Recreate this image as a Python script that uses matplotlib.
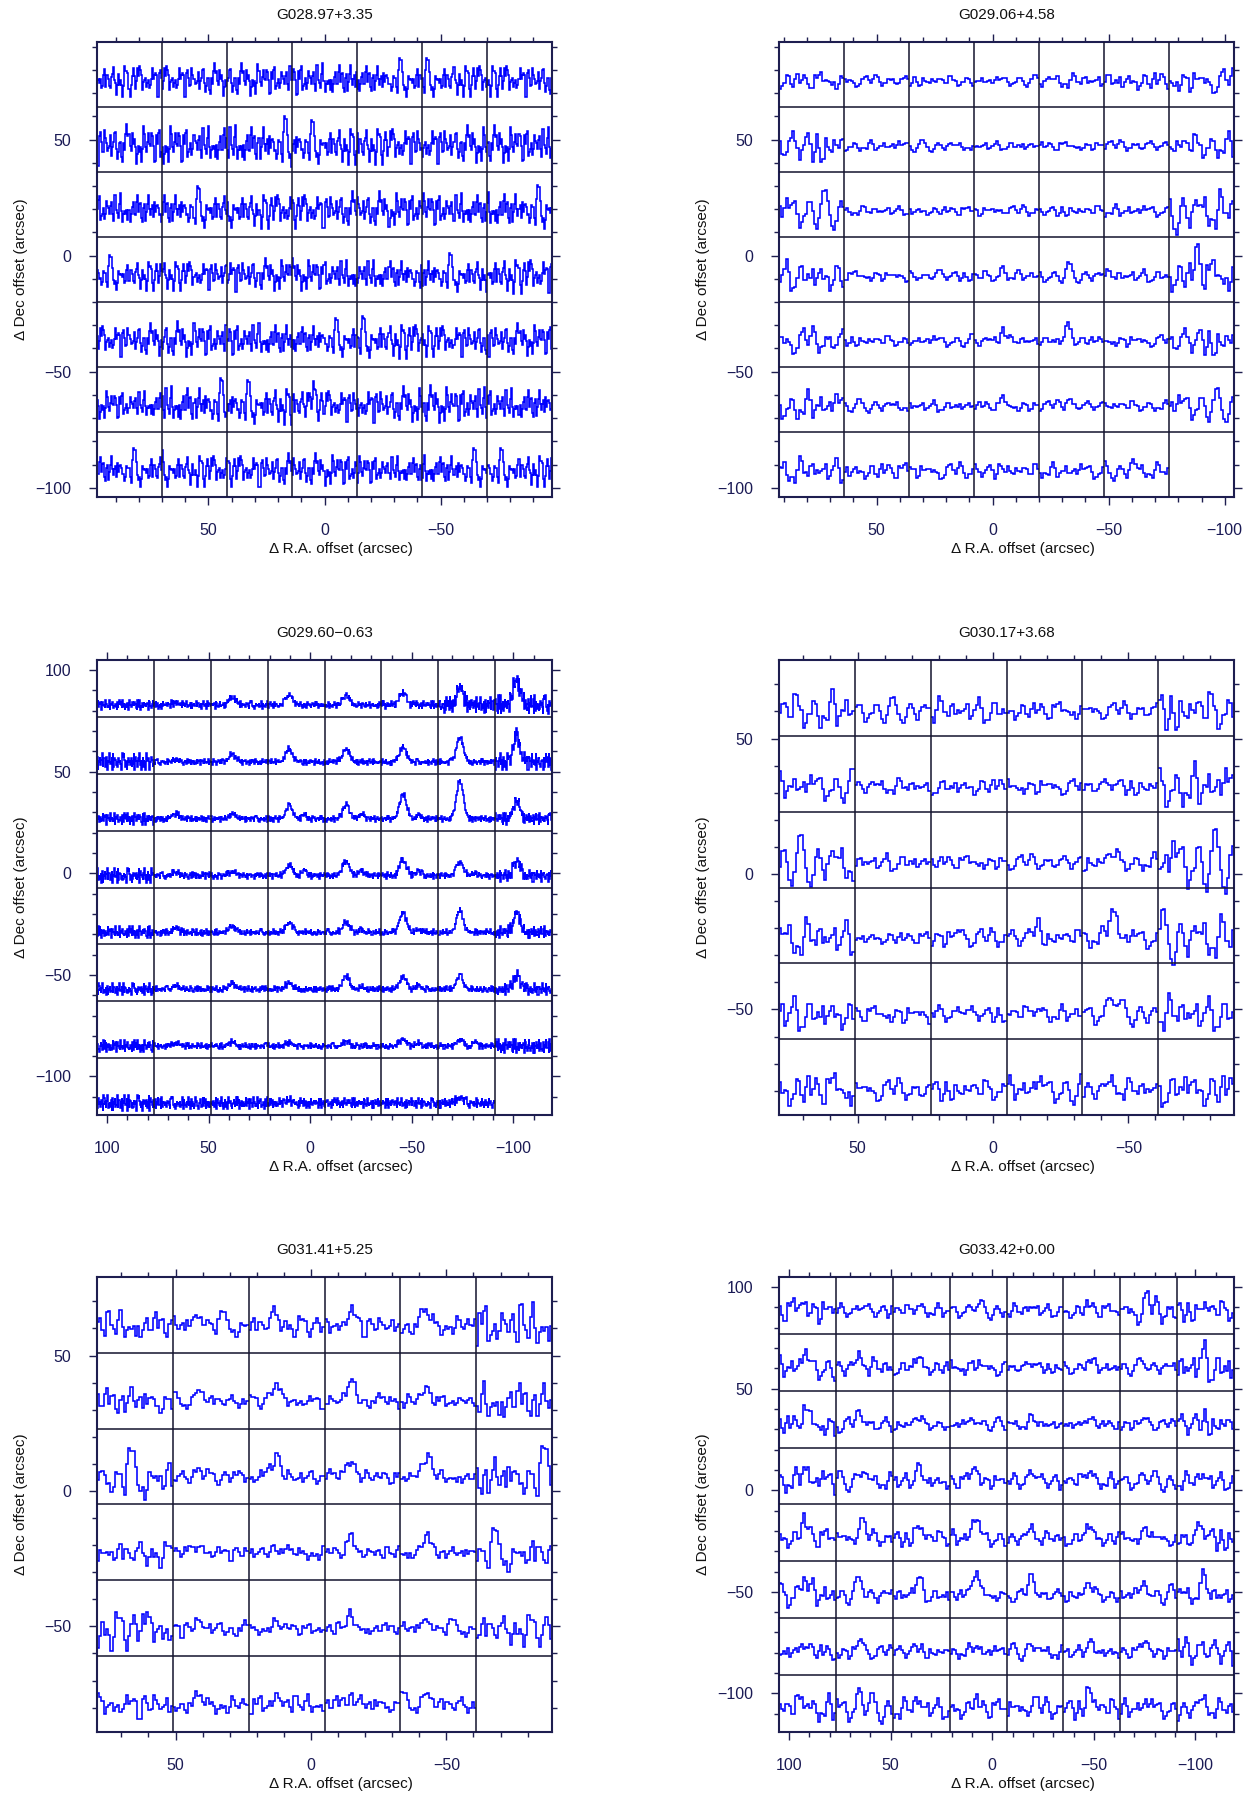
import matplotlib
matplotlib.use('Agg')
import matplotlib.pyplot as plt
from matplotlib.ticker import MultipleLocator
import numpy as np

plt.rcParams['font.family'] = ['Liberation Sans', 'DejaVu Sans']

STEP = 28.0  # map spacing in arcsec

# channel noise, one digit per channel, digit -> level
LEVELS = np.array([-1.9, -1.2, -0.8, -0.45, -0.15, 0.15, 0.45, 0.8, 1.2, 1.9])
BANK_A = ("4627135908" "5531749260" "3816402957" "7204586139" "2958063714"
          "6143927580" "0875319462" "5290647831" "3562081794" "8419275036"
          "1703964258" "4386510927" "9052713846" "2674098351" "6931452708"
          "0548236917" "7215806493" "3480917562" "5127463089" "8963150274")
BANK_B = ("3719064825" "6042873159" "1586320947" "9264517038" "4801936572"
          "7350218694" "2697405183" "8132759460" "5478602931" "0925184376"
          "6319847025" "2864053179" "7046291538" "1593768402" "4287510369"
          "9731026854" "0658473921" "3405982617" "8172639045" "5960314782")

titles = ['G028.97+3.35', 'G029.06+4.58', 'G029.60\u22120.63',
          'G030.17+3.68', 'G031.41+5.25', 'G033.42+0.00']
xlims = [(98, -98), (92, -104), (105, -119), (79, -89), (79, -89), (105, -119)]
ylims = [(-104, 92), (-104, 92), (-119, 105), (-89, 79), (-89, 79), (-119, 105)]
n_spectra = [49, 48, 63, 36, 35, 64]
n_chan = [64, 30, 90, 32, 34, 28]
baseline = [0.42, 0.40, 0.21, 0.33, 0.36, 0.40]
line_pos = [0.30, 0.45, 0.38, 0.40, 0.35, 0.45]
line_sigma = [0.05, 0.035, 0.06, 0.05, 0.06, 0.06]
noise_gain = [0.95, 1.0, 1.2, 1.2, 1.1, 1.3]
smoothed = [True, True, False, True, True, True]
banks = ['A', 'B', 'A', 'B', 'A', 'B']
shifts = [0, 11, 53, 97, 131, 23]

# rms noise and line peak per position, in units of the cell height
rms_g028 = [[0.13, 0.13, 0.13, 0.14, 0.13, 0.13, 0.13],
            [0.16, 0.16, 0.17, 0.15, 0.15, 0.15, 0.15],
            [0.14, 0.14, 0.14, 0.14, 0.14, 0.14, 0.15],
            [0.12, 0.12, 0.13, 0.13, 0.13, 0.13, 0.14],
            [0.13, 0.14, 0.14, 0.13, 0.14, 0.13, 0.13],
            [0.12, 0.16, 0.15, 0.13, 0.14, 0.15, 0.14],
            [0.13, 0.13, 0.13, 0.13, 0.12, 0.13, 0.13]]
line_g028 = [[0, 0, 0, 0, 0, 0, 0],
             [0, 0, 0, 0, 0, 0, 0],
             [0, 0, 0, 0, 0, 0, 0],
             [0, 0, 0, 0, 0, 0, 0],
             [0, 0, 0, 0, 0, 0, 0],
             [0, 0, 0, 0.2, 0, 0, 0],
             [0, 0, 0, 0, 0, 0, 0]]

rms_g029a = [[0.08, 0.045, 0.045, 0.04, 0.06, 0.09, 0.10],
             [0.14, 0.045, 0.04, 0.04, 0.04, 0.045, 0.11],
             [0.13, 0.04, 0.04, 0.045, 0.045, 0.05, 0.16],
             [0.14, 0.045, 0.04, 0.045, 0.05, 0.055, 0.15],
             [0.11, 0.045, 0.045, 0.045, 0.045, 0.05, 0.12],
             [0.12, 0.045, 0.05, 0.045, 0.045, 0.045, 0.11],
             [0.11, 0.075, 0.065, 0.065, 0.065, 0.065, 0.0]]
line_g029a = [[0, 0, 0, 0, 0, 0, 0],
              [0, 0, 0, 0, 0, 0, 0],
              [0, 0, 0, 0.06, 0, 0, 0],
              [0, 0, 0.05, 0.12, 0.1, 0, 0.4],
              [0, 0, 0, 0.25, 0.3, 0, 0],
              [0, 0, 0, 0.1, 0.12, 0, 0],
              [0, 0, 0, 0.14, 0, 0.12, 0]]

rms_g029b = [[0.04, 0.03, 0.03, 0.025, 0.025, 0.03, 0.07, 0.08],
             [0.07, 0.025, 0.025, 0.025, 0.025, 0.025, 0.025, 0.07],
             [0.05, 0.025, 0.025, 0.025, 0.025, 0.025, 0.025, 0.05],
             [0.06, 0.03, 0.025, 0.025, 0.025, 0.03, 0.025, 0.05],
             [0.05, 0.03, 0.025, 0.025, 0.025, 0.025, 0.025, 0.05],
             [0.05, 0.025, 0.025, 0.025, 0.025, 0.025, 0.025, 0.05],
             [0.05, 0.025, 0.025, 0.025, 0.025, 0.025, 0.025, 0.06],
             [0.07, 0.05, 0.05, 0.04, 0.04, 0.04, 0.04, 0.0]]
line_g029b = [[0.0, 0.04, 0.14, 0.18, 0.17, 0.22, 0.30, 0.45],
              [0.0, 0.04, 0.13, 0.22, 0.23, 0.27, 0.42, 0.45],
              [0.0, 0.08, 0.09, 0.23, 0.24, 0.43, 0.68, 0.32],
              [0.0, 0.06, 0.07, 0.18, 0.26, 0.28, 0.24, 0.25],
              [0.0, 0.07, 0.12, 0.18, 0.18, 0.35, 0.39, 0.35],
              [0.0, 0.07, 0.10, 0.12, 0.23, 0.22, 0.24, 0.25],
              [0.0, 0.06, 0.07, 0.06, 0.08, 0.12, 0.12, 0.0],
              [0.0, 0.0, 0.0, 0.05, 0.0, 0.0, 0.10, 0.0]]
wing_g029b = [[0, 0, 0, 0, 0, 0, 0, 0],
              [0, 0, 0, 0, 0, 0, 0, 0],
              [0, 0, 0, 0.08, 0.10, 0.05, 0, 0],
              [0, 0, 0, 0.10, 0.10, 0.10, 0.05, 0],
              [0, 0, 0, 0, 0.05, 0.06, 0, 0],
              [0, 0, 0, 0, 0.05, 0.08, 0, 0],
              [0, 0, 0, 0, 0, 0.06, 0.08, 0],
              [0, 0, 0, 0, 0, 0, 0, 0]]

rms_g030 = [[0.11, 0.06, 0.08, 0.06, 0.05, 0.12],
            [0.08, 0.045, 0.055, 0.05, 0.05, 0.13],
            [0.12, 0.055, 0.045, 0.045, 0.055, 0.15],
            [0.11, 0.04, 0.055, 0.055, 0.06, 0.13],
            [0.11, 0.055, 0.05, 0.05, 0.06, 0.11],
            [0.11, 0.065, 0.065, 0.075, 0.065, 0.11]]
line_g030 = [[0, 0, 0, 0, 0, 0],
             [0, 0, 0, 0, 0.05, 0],
             [0, 0, 0, 0, 0.12, 0],
             [0, 0, 0.1, 0.2, 0.38, 0],
             [0, 0, 0.08, 0.1, 0.3, 0],
             [0, 0, 0, 0.08, 0.1, 0.1]]

rms_g031 = [[0.10, 0.065, 0.065, 0.065, 0.06, 0.15],
            [0.10, 0.045, 0.045, 0.045, 0.045, 0.13],
            [0.13, 0.045, 0.055, 0.045, 0.045, 0.14],
            [0.08, 0.045, 0.045, 0.045, 0.045, 0.11],
            [0.12, 0.05, 0.04, 0.045, 0.045, 0.10],
            [0.08, 0.055, 0.065, 0.065, 0.055, 0.0]]
line_g031 = [[0, 0.15, 0.15, 0.17, 0.15, 0],
             [0, 0.15, 0.18, 0.25, 0.15, 0],
             [0, 0.12, 0.28, 0.25, 0.25, 0],
             [0, 0.10, 0.10, 0.20, 0.20, 0],
             [0, 0.08, 0.06, 0.17, 0.12, 0],
             [0, 0.06, 0.08, 0.12, 0.15, 0]]

rms_g033 = [[0.10, 0.05, 0.05, 0.05, 0.05, 0.06, 0.10, 0.08],
            [0.08, 0.07, 0.06, 0.06, 0.04, 0.05, 0.05, 0.13],
            [0.09, 0.06, 0.04, 0.04, 0.04, 0.04, 0.04, 0.09],
            [0.09, 0.06, 0.06, 0.06, 0.06, 0.06, 0.06, 0.07],
            [0.08, 0.06, 0.06, 0.06, 0.05, 0.06, 0.05, 0.09],
            [0.10, 0.06, 0.06, 0.05, 0.05, 0.05, 0.06, 0.08],
            [0.07, 0.05, 0.05, 0.05, 0.05, 0.05, 0.05, 0.10],
            [0.10, 0.09, 0.08, 0.08, 0.08, 0.08, 0.07, 0.07]]
line_g033 = [[0.22, 0.10, 0.12, 0.15, 0.08, 0.10, 0.15, 0.10],
             [0.20, 0.22, 0.20, 0.10, 0.10, 0.18, 0.12, 0.20],
             [0.22, 0.20, 0.12, 0.12, 0.10, 0.15, 0.12, 0.15],
             [0.25, 0.20, 0.25, 0.28, 0.20, 0.25, 0.15, 0.12],
             [0.30, 0.30, 0.25, 0.35, 0.18, 0.25, 0.18, 0.20],
             [0.40, 0.30, 0.30, 0.42, 0.30, 0.20, 0.20, 0.25],
             [0.20, 0.20, 0.12, 0.12, 0.15, 0.20, 0.20, 0.10],
             [0.25, 0.30, 0.15, 0.15, 0.15, 0.38, 0.12, 0.15]]

rms_maps = [rms_g028, rms_g029a, rms_g029b, rms_g030, rms_g031, rms_g033]
line_maps = [line_g028, line_g029a, line_g029b, line_g030, line_g031, line_g033]

SPEC_COLOR = '#0000ff'
FRAME_COLOR = '#1e1e50'
GRID_COLOR = '#14142e'


def channel_bank(digits, smooth):
    vals = LEVELS[np.array([int(d) for d in digits])]
    if smooth:
        vals = np.convolve(np.r_[vals[-1], vals, vals[0]], [0.2, 0.6, 0.2], mode='valid')
    return (vals - vals.mean()) / vals.std()


def draw_map(ax, i):
    x0, x1 = xlims[i]
    y0, y1 = ylims[i]
    ncol = int(round((x0 - x1) / STEP))
    nrow = int(round((y1 - y0) / STEP))
    bank = channel_bank(BANK_A if banks[i] == 'A' else BANK_B, smoothed[i])
    n = n_chan[i]
    frac = (np.arange(n) + 0.5) / n
    edges_f = np.arange(n + 1) / n
    profile = np.exp(-0.5 * ((frac - line_pos[i]) / line_sigma[i]) ** 2)
    wing = np.exp(-0.5 * ((frac - 0.65) / 0.04) ** 2)

    for r in range(nrow):
        for c in range(ncol):
            k = r * ncol + c
            if k >= n_spectra[i]:
                continue
            start = (shifts[i] + 37 * k) % len(bank)
            noise = bank[(start + np.arange(n)) % len(bank)]
            t = (baseline[i] + noise_gain[i] * rms_maps[i][r][c] * noise
                 + line_maps[i][r][c] * profile)
            if i == 2:
                t = t + wing_g029b[r][c] * wing
            left = x0 - c * STEP
            bottom = y1 - (r + 1) * STEP
            ax.stairs(bottom + STEP * t, left - STEP * edges_f, baseline=None,
                      color=SPEC_COLOR, lw=1.15, zorder=2)

    for c in range(1, ncol):
        ax.axvline(x0 - c * STEP, color=GRID_COLOR, lw=1.1, zorder=3)
    for r in range(1, nrow):
        ax.axhline(y1 - r * STEP, color=GRID_COLOR, lw=1.1, zorder=3)

    ax.set_xlim(x0, x1)
    ax.set_ylim(y0, y1)
    ax.xaxis.set_major_locator(MultipleLocator(50))
    ax.xaxis.set_minor_locator(MultipleLocator(10))
    ax.yaxis.set_major_locator(MultipleLocator(50))
    ax.yaxis.set_minor_locator(MultipleLocator(10))
    ax.tick_params(which='both', direction='out', top=True, right=True,
                   color=FRAME_COLOR, width=1.0, labelsize=11.5,
                   labelcolor='#1a1a55', pad=13)
    ax.tick_params(which='major', length=5.5)
    ax.tick_params(which='minor', length=3.5)
    for sp in ax.spines.values():
        sp.set_color(FRAME_COLOR)
        sp.set_linewidth(1.5)

    ax.text(0.5, 1.059, titles[i], transform=ax.transAxes,
            ha='center', va='center', fontsize=11, color='#111111')
    ax.text(0.537, -0.114, '\u0394 R.A. offset (arcsec)', transform=ax.transAxes,
            ha='center', va='center', fontsize=11, color='#111111')
    ax.text(-0.167, 0.5, '\u0394 Dec offset (arcsec)', transform=ax.transAxes,
            ha='center', va='center', rotation=90, fontsize=11, color='#111111')


fig = plt.figure(figsize=(12.5, 17.95), dpi=100)
col_left = [0.0776, 0.6232]
row_bottom = [0.7231, 0.3788, 0.0351]
w, h = 0.364, 0.2535

for i in range(6):
    ax = fig.add_axes([col_left[i % 2], row_bottom[i // 2], w, h])
    draw_map(ax, i)

fig.savefig('out.png', dpi=100, facecolor='white')
